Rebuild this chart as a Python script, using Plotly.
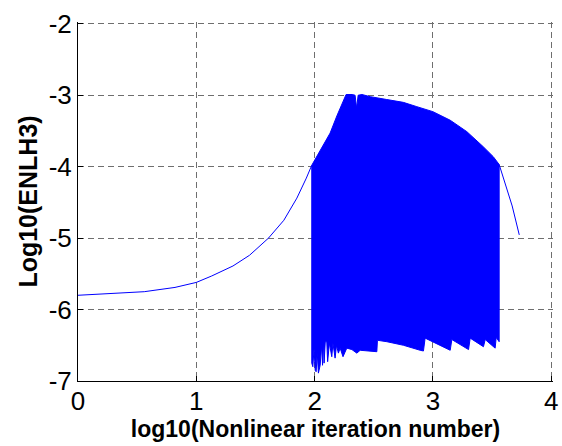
import plotly.graph_objects as go

# Smooth part of the curve (before oscillation)
curve_x = [0.0, 0.28, 0.56, 0.82, 1.0, 1.13, 1.31, 1.45, 1.61, 1.74, 1.85, 1.93, 1.976]
curve_y = [-5.80, -5.77, -5.75, -5.69, -5.62, -5.53, -5.39, -5.24, -5.0, -4.75, -4.44, -4.16, -3.98]

# Upper envelope of the oscillating band
upper_x = [1.976, 2.047, 2.131, 2.188, 2.230, 2.266, 2.317, 2.342, 2.355, 2.368, 2.40, 2.47,
           2.61, 2.75, 2.864, 3.00, 3.146, 3.287, 3.425, 3.51, 3.56]
upper_y = [-3.98, -3.78, -3.53, -3.29, -3.13, -2.99, -2.99, -3.0, -3.18, -3.0, -2.99, -3.02,
           -3.06, -3.10, -3.16, -3.23, -3.35, -3.51, -3.72, -3.86, -3.97]

# Lower envelope of the oscillating band
lower_x = [1.976, 1.985, 1.995, 2.005, 2.013, 2.022, 2.032, 2.047, 2.06, 2.067, 2.074, 2.080,
           2.09, 2.103, 2.110, 2.125, 2.145, 2.155, 2.173, 2.185, 2.201, 2.216, 2.24, 2.272,
           2.315, 2.357, 2.385, 2.469, 2.526, 2.531, 2.611, 2.751, 2.892, 2.920, 2.934, 3.146,
           3.160, 3.301, 3.315, 3.427, 3.442, 3.526, 3.535, 3.560]
lower_y = [-6.75, -6.80, -6.55, -6.85, -6.87, -6.60, -6.89, -6.78, -6.50, -6.78, -6.43, -6.75,
           -6.45, -6.45, -6.73, -6.47, -6.66, -6.47, -6.68, -6.50, -6.61, -6.54, -6.66, -6.54,
           -6.56, -6.61, -6.57, -6.58, -6.59, -6.43, -6.45, -6.50, -6.57, -6.58, -6.40, -6.57,
           -6.42, -6.56, -6.40, -6.52, -6.42, -6.54, -6.39, -6.45]

# Tail after oscillation
tail_x = [3.56, 3.67, 3.73]
tail_y = [-3.97, -4.55, -4.955]

x_ticks = [0, 1, 2, 3, 4]
y_ticks = [-7, -6, -5, -4, -3, -2]

BLUE = "#0000ff"

band_x = upper_x + lower_x[::-1] + [upper_x[0]]
band_y = upper_y + lower_y[::-1] + [upper_y[0]]

fig = go.Figure()
fig.add_trace(go.Scatter(x=curve_x, y=curve_y, mode="lines",
                         line=dict(color=BLUE, width=1), showlegend=False))
fig.add_trace(go.Scatter(x=band_x, y=band_y, mode="lines", fill="toself",
                         fillcolor=BLUE, line=dict(color=BLUE, width=1), showlegend=False))
fig.add_trace(go.Scatter(x=tail_x, y=tail_y, mode="lines",
                         line=dict(color=BLUE, width=1), showlegend=False))

grid = dict(showgrid=True, gridcolor="#6e6e6e", griddash="6px,4px", gridwidth=1)

fig.update_layout(
    width=562, height=446,
    margin=dict(l=78, r=9, t=22, b=65),
    paper_bgcolor="white", plot_bgcolor="white",
    font=dict(family="Liberation Sans, Arial, sans-serif", color="black"),
    xaxis=dict(range=[0, 4.015], tickvals=x_ticks, ticktext=[str(v) for v in x_ticks],
               ticks="inside", ticklen=5, tickcolor="black", automargin=False,
               showline=True, linecolor="black", linewidth=1, zeroline=False,
               tickfont=dict(size=26), ticklabelstandoff=-3,
               title=dict(text="<b>log10(Nonlinear iteration number)</b>",
                          font=dict(size=23), standoff=5),
               **grid),
    yaxis=dict(range=[-7, -1.975], tickvals=y_ticks, ticktext=[str(v) for v in y_ticks],
               ticks="inside", ticklen=5, tickcolor="black", automargin=False,
               showline=True, linecolor="black", linewidth=1, zeroline=False,
               tickfont=dict(size=26),
               title=dict(text="<b>Log10(ENLH3)</b>", font=dict(size=25), standoff=3),
               **grid),
)

fig.write_html("out.html", config={"displayModeBar": False},
               post_script="document.body.style.margin='0';document.body.style.padding='0';")
